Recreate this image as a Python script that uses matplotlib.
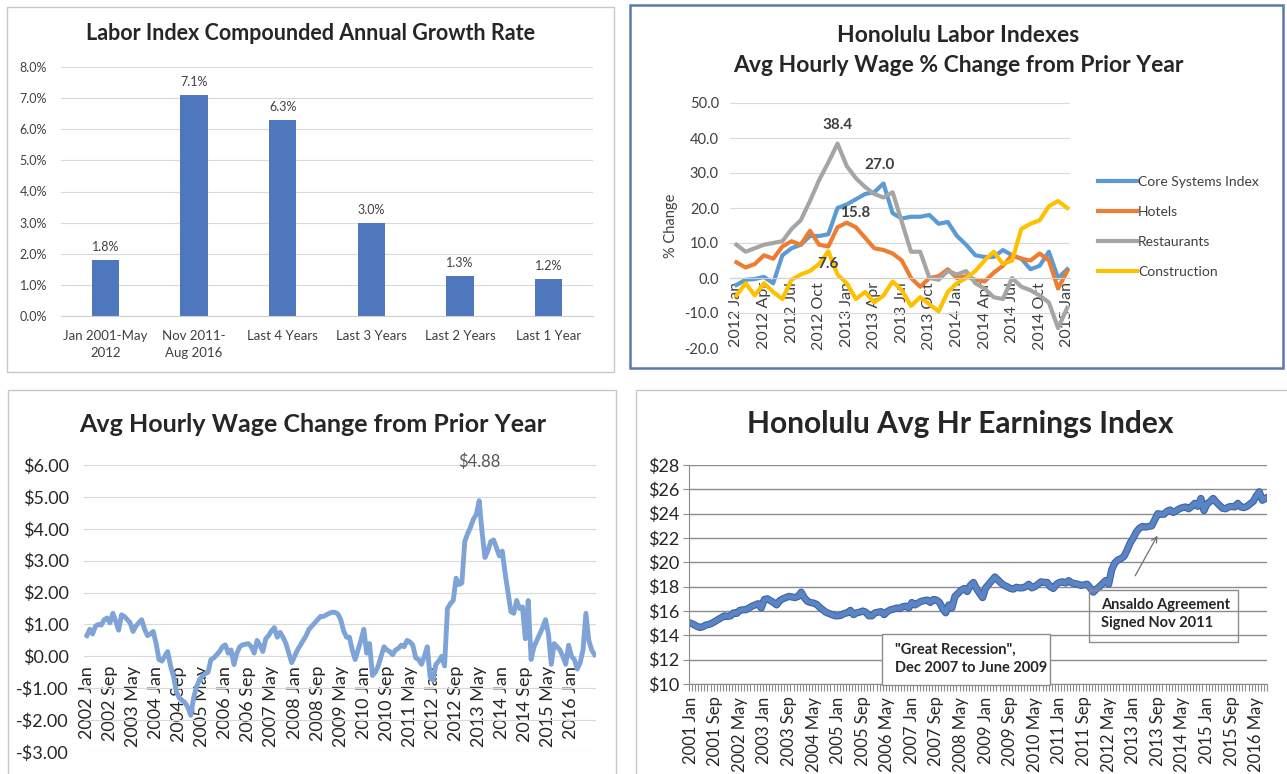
import matplotlib
matplotlib.use('Agg')
import matplotlib.pyplot as plt
from matplotlib.patches import Rectangle
import matplotlib.patheffects as pe
import numpy as np

plt.rcParams['font.family'] = ['Lato', 'DejaVu Sans']

W, H = 1287, 774

# ---- data: top-left bars
cagr_labels = ['Jan 2001-May\n2012', 'Nov 2011-\nAug 2016', 'Last 4 Years',
               'Last 3 Years', 'Last 2 Years', 'Last 1 Year']
cagr_values = [1.8, 7.1, 6.3, 3.0, 1.3, 1.2]

# ---- data: top-right, monthly 2012 Jan .. 2015 Jan
idx_ticklabels = ['2012 Jan', '2012 Apr', '2012 Jul', '2012 Oct', '2013 Jan', '2013 Apr',
                  '2013 Jul', '2013 Oct', '2014 Jan', '2014 Apr', '2014 Jul', '2014 Oct',
                  '2015 Jan']
core_idx = [-2, -0.5, -0.3, 0.3, -1.5, 6.5, 8.5, 9.5, 12, 12, 12.5, 20, 21, 22.5, 24,
            24.5, 27, 18.5, 17, 17.5, 17.5, 18, 15.5, 16, 12, 9.5, 6.5, 6, 6, 8, 6.5,
            5.5, 2.5, 3.5, 7.5, 0, 2.5]
hotels = [4.5, 3, 4, 6.5, 5.5, 9, 10.5, 9.5, 13.5, 9.5, 9, 14.5, 15.8, 14.5, 11.5, 8.5,
          8, 7, 5, 0, -2.5, 0, 0.5, 2.5, 0, 0.5, -0.5, -1, 1.5, 3.5, 6.5, 5.5, 5, 7, 5,
          -3, 2]
restaurants = [9.5, 7.5, 8.5, 9.5, 10, 10.5, 14, 16.5, 22, 28, 33, 38.4, 32, 28.5, 26,
               24, 23, 24.5, 16, 7.5, 7.5, 0, -0.5, 2, 1, 2, -1.5, -3, -5.5, -6, 0,
               -2.5, -3.5, -5, -7, -14.3, -8.5]
construction = [-5, -1.5, -5, -1.5, -4, -6, -0.5, 1, 2, 4, 7.6, 1, -1.5, -6, -4, -7, -5,
                -1, -3.5, -8, -5.5, -7.5, -9.5, -4, -1.5, 0, 2, 5, 7.5, 4, 5, 14, 15.5,
                16.5, 20.5, 22, 20]

# ---- data: bottom-left, monthly 2002 Jan .. 2016 Sep ($ change from prior year)
chg_ticklabels = ['2002 Jan', '2002 Sep', '2003 May', '2004 Jan', '2004 Sep', '2005 May',
                  '2006 Jan', '2006 Sep', '2007 May', '2008 Jan', '2008 Sep', '2009 May',
                  '2010 Jan', '2010 Sep', '2011 May', '2012 Jan', '2012 Sep', '2013 May',
                  '2014 Jan', '2014 Sep', '2015 May', '2016 Jan']
wage_chg = [
    0.65, 0.85, 0.7, 0.95, 1.0, 0.98, 1.15, 1.2, 1.05, 1.35, 1.1, 0.82,
    1.3, 1.25, 1.15, 1.05, 0.78, 0.95, 1.05, 1.15, 0.85, 0.65, 0.7, 0.78,
    0.4, -0.1, -0.15, 0.0, 0.15, -0.3, -0.62, -1.1, -1.3, -1.38, -1.45, -1.6,
    -1.85, -1.3, -0.95, -0.75, -0.62, -0.55, -0.5, -0.1, -0.05, 0.05, 0.15, 0.3,
    0.36, 0.1, 0.2, -0.26, 0.1, 0.3, 0.36, 0.38, 0.4, 0.3, 0.1, 0.5,
    0.35, 0.15, 0.55, 0.65, 0.8, 0.9, 0.6, 0.75, 0.6, 0.4, 0.1, -0.2,
    0.0, 0.2, 0.35, 0.5, 0.65, 0.85, 0.95, 1.05, 1.15, 1.25, 1.25, 1.3,
    1.35, 1.38, 1.38, 1.33, 1.15, 0.8, 0.6, 0.6, 0.2, -0.1, 0.2, 0.5,
    0.85, 0.1, 0.4, -0.6, -0.5, -0.3, 0.0, 0.3, 0.2, 0.15, 0.05, 0.2,
    0.25, 0.35, 0.3, 0.5, 0.45, 0.35, -0.05, -0.1, -0.25, 0.0, 0.3, -0.65,
    -0.75, -0.25, -0.15, 0.0, -0.3, 1.5, 1.65, 1.75, 2.45, 2.25, 2.3, 3.6,
    3.85, 4.05, 4.3, 4.45, 4.88, 3.9, 3.1, 3.3, 3.6, 3.65, 3.4, 3.15,
    3.3, 2.6, 2.0, 1.4, 1.35, 1.75, 1.5, 1.55, 0.55, 1.75, -0.1, 0.3,
    0.5, 0.7, 0.9, 1.15, 0.7, -0.25, 0.4, 0.3, 0.2, 0.0, -0.25, 0.35,
    0.0, -0.1, -0.4, -0.2, 0.2, 1.35, 0.5, 0.2, 0.05,
]

# ---- data: bottom-right, monthly 2001 Jan .. 2016 Aug ($/hr)
earn_ticklabels = ['2001 Jan', '2001 Sep', '2002 May', '2003 Jan', '2003 Sep', '2004 May',
                   '2005 Jan', '2005 Sep', '2006 May', '2007 Jan', '2007 Sep', '2008 May',
                   '2009 Jan', '2009 Sep', '2010 May', '2011 Jan', '2011 Sep', '2012 May',
                   '2013 Jan', '2013 Sep', '2014 May', '2015 Jan', '2015 Sep', '2016 May']
earnings = [
    15.0, 14.9, 14.75, 14.65, 14.7, 14.85, 14.9, 15.0, 15.15, 15.3, 15.45, 15.6,
    15.55, 15.6, 15.85, 15.8, 16.05, 16.1, 16.1, 16.25, 16.4, 16.5, 16.6, 16.25,
    16.95, 17.0, 16.85, 16.7, 16.5, 16.85, 17.0, 17.1, 17.2, 17.15, 17.1, 17.2,
    17.55, 17.1, 16.8, 16.7, 16.65, 16.55, 16.3, 16.1, 15.9, 15.8, 15.7, 15.6,
    15.6, 15.65, 15.8, 15.85, 16.05, 15.7, 15.85, 15.9, 16.0, 15.9, 15.6, 15.6,
    15.85, 15.9, 15.95, 15.7, 15.95, 16.1, 16.15, 16.25, 16.2, 16.35, 16.4, 16.25,
    16.7, 16.5, 16.65, 16.8, 16.85, 16.9, 16.7, 16.95, 16.9, 16.7, 16.2, 15.85,
    16.5, 16.25, 17.2, 17.45, 17.7, 17.85, 17.6, 18.1, 18.35, 17.85, 17.45, 17.1,
    17.9, 18.2, 18.5, 18.8, 18.55, 18.3, 18.1, 18.0, 17.85, 17.8, 17.95, 17.9,
    17.9, 18.0, 18.2, 17.9, 18.0, 18.2, 18.4, 18.35, 18.35, 18.0, 17.85, 18.2,
    18.35, 18.4, 18.3, 18.5, 18.3, 18.25, 18.2, 18.1, 18.15, 18.2, 17.9, 17.55,
    17.8, 18.0, 18.25, 18.5, 18.2, 19.4, 19.95, 20.2, 20.3, 20.5, 21.0, 21.6,
    22.0, 22.5, 22.8, 22.95, 22.9, 22.95, 23.0, 23.5, 24.0, 23.95, 23.95, 24.2,
    24.3, 24.1, 24.25, 24.4, 24.5, 24.55, 24.4, 24.6, 24.85, 24.6, 25.25, 24.25,
    24.8, 25.0, 25.25, 24.95, 24.7, 24.45, 24.4, 24.55, 24.6, 24.55, 24.85, 24.55,
    24.5, 24.6, 24.8, 25.0, 25.45, 25.8, 25.1, 25.25,
]


def rect(x0, y0, x1, y1):
    # pixel box -> figure fraction [left, bottom, width, height]
    return [x0 / W, 1 - y1 / H, (x1 - x0) / W, (y1 - y0) / H]


def frame(x0, y0, x1, y1, color='#c8c8c8', lw=1.0):
    fig.add_artist(Rectangle((x0 / W, 1 - y1 / H), (x1 - x0) / W, (y1 - y0) / H,
                             transform=fig.transFigure, fill=False,
                             edgecolor=color, linewidth=lw))


fig = plt.figure(figsize=(W / 100, H / 100), dpi=100)
fig.patch.set_facecolor('white')

frame(7, 7, 614, 372)
frame(630, 5, 1283, 368, color='#5a7aab', lw=1.8)
frame(8, 390, 616, 800)
frame(636, 390, 1290, 800)

txt = '#262626'

# ================= top-left: bar chart
ax1 = fig.add_axes(rect(61, 67, 593, 316))
x = np.arange(len(cagr_values))
ax1.bar(x, cagr_values, width=0.31, color='#4f77be')
for xi, v in zip(x, cagr_values):
    ax1.text(xi, v + 0.22, f'{v:.1f}%', ha='center', va='bottom', fontsize=9, color='#404040')
ax1.set_xlim(-0.5, len(cagr_values) - 0.5)
ax1.set_ylim(0, 8)
ax1.set_yticks(np.arange(0, 9, 1))
ax1.set_yticklabels([f'{v:.1f}%' for v in range(9)], fontsize=9, color='#404040')
ax1.set_xticks(x)
ax1.set_xticklabels(cagr_labels, fontsize=9.5, color='#404040', linespacing=1.5)
ax1.tick_params(length=0, pad=10)
ax1.grid(axis='y', color='#d9d9d9', linewidth=0.8)
ax1.set_axisbelow(True)
for s in ['top', 'right', 'left']:
    ax1.spines[s].set_visible(False)
ax1.spines['bottom'].set_color('#d0d0d0')
fig.text(310 / W, 1 - 33 / H, 'Labor Index Compounded Annual Growth Rate',
         ha='center', va='center', fontsize=15.5, fontweight='bold', color=txt)

# ================= top-right: index lines
ax2 = fig.add_axes(rect(730, 103, 1070, 348))
ax2.spines['bottom'].set_position(('data', 0))
m2 = np.arange(len(core_idx))
series = [('Core Systems Index', core_idx, '#5b9bd5'),
          ('Hotels', hotels, '#ed7d31'),
          ('Restaurants', restaurants, '#a5a5a5'),
          ('Construction', construction, '#ffc000')]
for name, vals, col in series:
    ax2.plot(m2, vals, color=col, linewidth=3.0, label=name, solid_joinstyle='round')
ax2.set_xlim(-0.7, len(core_idx) - 0.7)
ax2.set_ylim(-20, 50)
ax2.set_yticks(np.arange(-20, 51, 10))
ax2.set_yticklabels([f'{v:.1f}' for v in range(-20, 51, 10)], fontsize=10.5, color='#404040')
ax2.set_xticks(np.arange(len(idx_ticklabels)) * 3)
ax2.set_xticklabels(idx_ticklabels, rotation=90, fontsize=11.5, color='#404040')
ax2.tick_params(length=0)
ax2.tick_params(axis='x', pad=3)
ax2.tick_params(axis='y', pad=8)
ax2.grid(axis='y', color='#d9d9d9', linewidth=0.8)
ax2.set_axisbelow(True)
for s in ['top', 'right', 'left']:
    ax2.spines[s].set_visible(False)
ax2.spines['bottom'].set_color('#d0d0d0')
ax2.set_ylabel('% Change', fontsize=10.5, color='#404040', labelpad=5)
i_r = int(np.argmax(restaurants))
i_c = int(np.argmax(core_idx))
i_h = int(np.argmax(hotels))
i_k = 10
lab_kw = dict(ha='center', fontsize=11, fontweight='bold', color='#404040',
              textcoords='offset points')
ax2.annotate(f'{restaurants[i_r]:.1f}', (i_r, restaurants[i_r]), xytext=(0, 8), va='bottom', **lab_kw)
ax2.annotate(f'{core_idx[i_c]:.1f}', (i_c, core_idx[i_c]), xytext=(-3, 8), va='bottom', **lab_kw)
ax2.annotate(f'{hotels[i_h]:.1f}', (i_h, hotels[i_h]), xytext=(6, 2), va='bottom', **lab_kw)
ax2.annotate(f'{construction[i_k]:.1f}', (i_k, construction[i_k]), xytext=(0, -4), va='top', **lab_kw)
ax2.legend(loc='upper left', bbox_to_anchor=(1.045, 0.755), frameon=False, fontsize=10,
           handlelength=2.8, handletextpad=0.1, labelspacing=1.3, labelcolor='#404040')
fig.text(958 / W, 1 - 35 / H, 'Honolulu Labor Indexes', ha='center', va='center',
         fontsize=16.5, fontweight='bold', color=txt)
fig.text(958 / W, 1 - 66 / H, 'Avg Hourly Wage % Change from Prior Year', ha='center',
         va='center', fontsize=16.5, fontweight='bold', color=txt)

# ================= bottom-left: $ change line
ax3 = fig.add_axes(rect(84, 465, 596, 752))
ax3.spines['bottom'].set_position(('data', 0))
m3 = np.arange(len(wage_chg))
ax3.plot(m3, wage_chg, color='#7ea3d6', linewidth=3.5, solid_joinstyle='round')
ax3.set_xlim(-1, len(wage_chg) - 0.5)
ax3.set_ylim(-3, 6)
ax3.set_yticks(np.arange(-3, 7, 1))
ax3.set_yticklabels([f'${v:.2f}' if v >= 0 else f'-${-v:.2f}' for v in range(-3, 7)],
                    fontsize=13, color=txt)
ax3.set_xticks(np.arange(len(chg_ticklabels)) * 8)
ax3.set_xticklabels(chg_ticklabels, rotation=90, fontsize=13, color=txt)
ax3.tick_params(length=0)
ax3.tick_params(axis='x', pad=7)
ax3.tick_params(axis='y', pad=11)
ax3.grid(axis='y', color='#d9d9d9', linewidth=0.8)
ax3.set_axisbelow(True)
for s in ['top', 'right', 'left', 'bottom']:
    ax3.spines[s].set_visible(False)
i_p = int(np.argmax(wage_chg))
ax3.annotate(f'${wage_chg[i_p]:.2f}', (i_p, wage_chg[i_p]), xytext=(0, 22),
             textcoords='offset points', ha='center', va='bottom', fontsize=12,
             color='#595959')
fig.text(313 / W, 1 - 424 / H, 'Avg Hourly Wage Change from Prior Year', ha='center',
         va='center', fontsize=18, fontweight='bold', color=txt)

# ================= bottom-right: earnings index
ax4 = fig.add_axes(rect(689, 465, 1267, 684))
m4 = np.arange(len(earnings))
ax4.plot(m4, earnings, color='#5a84c4', linewidth=3.6, solid_joinstyle='round',
         path_effects=[pe.Stroke(linewidth=5.2, foreground='#3e64a3'), pe.Normal()])
ax4.set_xlim(-0.5, len(earnings) - 0.5)
ax4.set_ylim(10, 28)
ax4.set_yticks(np.arange(10, 29, 2))
ax4.set_yticklabels([f'${v}' for v in range(10, 29, 2)], fontsize=13, color=txt)
ax4.set_xticks(np.arange(len(earn_ticklabels)) * 8)
ax4.set_xticklabels(earn_ticklabels, rotation=90, fontsize=12, color=txt)
ax4.set_xticks(np.arange(len(earnings) + 1) - 0.5, minor=True)
ax4.tick_params(axis='x', which='major', length=0, pad=9)
ax4.tick_params(axis='x', which='minor', length=5, color='#8c8c8c', width=0.8)
ax4.tick_params(axis='y', length=4, color='#8c8c8c', pad=3)
ax4.grid(axis='y', color='#8c8c8c', linewidth=1.0)
ax4.set_axisbelow(True)
for s in ['top', 'right']:
    ax4.spines[s].set_visible(False)
ax4.spines['left'].set_color('#8c8c8c')
ax4.spines['bottom'].set_color('#8c8c8c')

ann_kw = dict(fontsize=10.5, fontweight='bold', color=txt, va='center', ha='left')
ax4.add_patch(Rectangle((129.5, 13.45), 48.5, 4.3, fill=False, edgecolor='#8c8c8c',
                        linewidth=1.0, clip_on=False, zorder=5))
ax4.text(133.5, 16.5, 'Ansaldo Agreement', **ann_kw)
ax4.text(133.5, 15.0, 'Signed Nov 2011', **ann_kw)
ax4.annotate('', xy=(152.3, 22.4), xytext=(144.2, 18.7),
             arrowprops=dict(arrowstyle='->', color='#707070', linewidth=0.9))
ax4.add_patch(Rectangle((62.4, 9.9), 54.4, 4.2, facecolor='white', edgecolor='#8c8c8c',
                        linewidth=1.0, clip_on=False, zorder=5))
ax4.text(66.5, 12.8, '"Great Recession",', zorder=6, **ann_kw)
ax4.text(66.5, 11.3, 'Dec 2007 to June 2009', zorder=6, **ann_kw)
fig.text(960 / W, 1 - 424 / H, 'Honolulu Avg Hr Earnings Index', ha='center',
         va='center', fontsize=21.5, fontweight='bold', color=txt)

fig.savefig('out.png', dpi=100, facecolor='white')
